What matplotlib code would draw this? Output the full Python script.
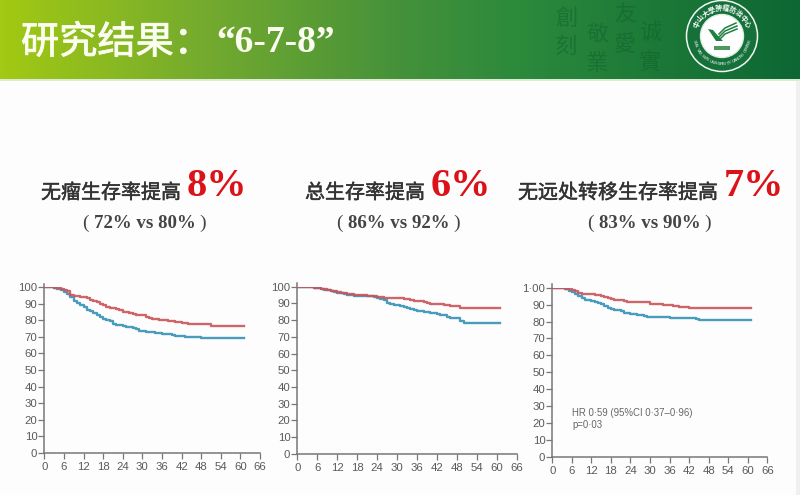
import numpy as np
import matplotlib
matplotlib.use("Agg")
import matplotlib.pyplot as plt
import matplotlib.patheffects as pe
from matplotlib.patches import Circle, Rectangle, Polygon
from matplotlib.colors import LinearSegmentedColormap

W, H = 800, 495
CJK = ['Noto Sans CJK SC', 'DejaVu Sans']
SERIF = ['Liberation Serif', 'DejaVu Serif']
SANS = ['Liberation Sans', 'DejaVu Sans']

header_title = "研究结果："
header_nums = "“6-7-8”"
titles = ["无瘤生存率提高", "总生存率提高", "无远处转移生存率提高"]
gains = ["8%", "6%", "7%"]
subtitles = ["72% vs 80%", "86% vs 92%", "83% vs 90%"]
xticks = list(range(0, 67, 6))
yticks = list(range(0, 101, 10))
ylabels_a = ["0","10","20","30","40","50","60","70","80","90","100"]
ylabels_c = ["0","10","20","30","40","50","60","70","80","90","1·00"]
note_hr = "HR 0·59 (95%CI 0·37–0·96)\np=0·03"

months = list(range(62))
red1 = [100,100,100,99.7,99.5,99,98.5,97.5,95.5,95,
        94.5,94.3,94,93.5,92.5,92,91,90,89,88,
        87.5,87.5,87,86,85,84.8,84.3,84,83.5,83.3,
        83,82,81.5,81,80.7,80.3,80,80,79.7,79.5,
        79,78.8,78.7,78.5,78,78,78,78,78,78,
        78,76.5,76.5,76.5,76.5,76.5,76.5,76.5,76.5,76.5,76.5,76.5]
blue1 = [100,100,100,99.5,99,98.5,97,96,94,91.5,
         90.3,89.5,88,86.5,85.5,84.5,83,82,81,80,
         79.7,78,77.5,77.3,76.5,76.2,75.7,75.2,74.8,73.8,
         73.5,73.2,73,72.7,72.5,72.2,72,72,71.7,71,
         70.7,70.5,70.4,70.2,70,70,70,69.7,69.3,69.3,
         69.3,69.3,69.3,69.3,69.3,69.3,69.3,69.3,69.3,69.3,69.3,69.3]
red2 = [100,100,100,100,99.8,99.5,99.2,98.8,98.5,98,
        97.7,97.3,96.8,96.3,96,95.7,95.5,95.3,95.2,95,
        94.8,94.6,94.5,94.2,94,93.7,93.5,93.4,93.3,93.3,
        93.3,93.2,92.8,92.4,92,91.7,91.5,91.2,90.8,90,
        89.7,89.6,89.5,89.5,89,88.8,88.7,88.6,88.5,87.5,
        87.5,87.5,87.5,87.5,87.5,87.5,87.5,87.5,87.5,87.5,87.5,87.5]
blue2 = [100,100,100,100,99.8,99.5,99.2,98.8,98.3,98,
         97.5,97,96.5,96,95.7,95.2,94.8,94.7,94.6,94.5,
         94.4,94.3,94.3,94,93,92.5,92,90.5,89.5,89,
         88.8,88.3,88,87.5,86.5,86,85.7,85.2,85,85,
         84.5,84,83.7,83.2,82.8,82,81.3,81.2,81,79.5,
         78.5,78.5,78.5,78.5,78.5,78.5,78.5,78.5,78.5,78.5,78.5,78.5]
red3 = [100,100,100,99.7,99.5,99.3,98.7,98,97,96,
        96,96,96,95.8,95.5,95,94.5,94,93.3,93,
        93,92.8,92,91.8,91.7,91.6,91.5,91.5,91.4,91.3,
        90.5,90.3,90.2,90.1,90,89.7,89.5,89.3,88.9,88.6,
        88.5,88.4,88.3,88.2,87.8,87.8,87.8,87.8,87.8,87.8,
        87.8,87.8,87.8,87.8,87.8,87.8,87.8,87.8,87.8,87.8,87.8,87.8]
blue3 = [100,100,100,99.7,99,98,97.5,96.5,95,94,
         93,92.6,92,91.5,91,90.2,89,87.8,87.2,87,
         86.8,86,85.3,85,84.7,84.3,84,83.8,83,82.5,
         82.4,82.4,82.4,82.4,82.4,82.4,82.3,82.3,82.3,82.3,
         82,82,82,82,81.4,81.2,81.2,81.2,81.2,81.2,
         81.1,81.1,81.1,81.1,81.1,81.1,81.1,81.1,81,81,81,81]

series = [(red1, blue1), (red2, blue2), (red3, blue3)]
boxes = [(44.3, 260.0, 452.7, 287.3), (297.3, 516.7, 453.7, 286.7), (552.3, 767.3, 457.0, 287.7)]
title_x = [41, 305, 518]
gain_x = [247, 491, 784]
sub_x = [145, 399, 650]
tick_colour = "#5a5a5a"
axis_colour = "#777777"
red = "#c9545a"
blue = "#3f97b8"

fig = plt.figure(figsize=(W/100, H/100), dpi=100, facecolor="#fdfdfd")
bg = fig.add_axes([0, 0, 1, 1])
bg.set_xlim(0, W); bg.set_ylim(H, 0); bg.axis("off")
cmap = LinearSegmentedColormap.from_list("h", [(0, "#a2c913"), (0.25, "#75ab2e"), (0.5, "#45913a"),
                                               (0.65, "#2b8a3c"), (1, "#0c6733")])
bg.imshow(np.linspace(0, 1, 256)[None, :], extent=(0, W, 79, 0), cmap=cmap, aspect="auto", zorder=0)
bg.set_xlim(0, W); bg.set_ylim(H, 0)
bg.add_patch(Rectangle((0, 79), W, 2, color="#dcecd4", lw=0, zorder=1))
bg.add_patch(Rectangle((796, 81), 4, H-81, color="#f0f0f0", lw=0, zorder=1))

t = bg.text(21, 43, header_title, family=CJK, fontsize=27.5, color="#fbfdf0", va="center", ha="left", zorder=3)
t.set_path_effects([pe.withStroke(linewidth=0.6, foreground="#fbfdf0")])
bg.text(216, 42, header_nums, family=SERIF, weight="bold", fontsize=27, color="#fbfdf0", va="center", ha="left", zorder=3)

# faint calligraphy columns
for x, y, s in [(566, 18, "創"), (566, 46, "刻"), (597, 34, "敬"), (597, 63, "業"),
                (625, 15, "友"), (625, 44, "愛"), (650, 32, "诚"), (650, 62, "實")]:
    bg.text(x, y, s, family=['Noto Sans CJK TC', 'DejaVu Sans'], fontsize=16, color="#0d5c2b", alpha=0.42,
            ha="center", va="center", zorder=2)

# emblem
cx, cy = 722, 36
bg.add_patch(Circle((cx, cy), 35.5, fc="#15703a", ec="#f2f8f2", lw=1.1, zorder=3))
bg.add_patch(Circle((cx, cy), 21.5, fc="white", ec="#dcefe0", lw=1, zorder=4))
bg.add_patch(Polygon([(cx-14, cy-7), (cx-9, cy-6), (cx-3, cy+1), (cx+1, cy+5), (cx-6, cy+5)],
                     fc="#1f8040", lw=0, zorder=5))
for dy, ex in [(-2, 14), (1, 15), (4, 15)]:
    bg.plot([cx-3, cx+3, ex+cx], [cy+dy, cy+dy-6, cy+dy-11], color="#1f8040", lw=1.1, zorder=5)
bg.add_patch(Rectangle((cx-8, cy+10), 16, 4, fc="#4d9a5c", lw=0, zorder=5))
ring = "中山大學肿瘤防治中心"
for i, ch in enumerate(ring):
    a = np.deg2rad(-155 + i*130/(len(ring)-1))
    bg.text(cx+28*np.cos(a), cy+28*np.sin(a), ch, family=['Noto Sans CJK TC', 'DejaVu Sans'], fontsize=5,
            color="white", weight="bold", ha="center", va="center",
            rotation=-np.rad2deg(a)-90, zorder=5)
arc = "SUN YAT-SEN UNIVERSITY CANCER CENTER"
for i, ch in enumerate(arc):
    a = np.deg2rad(170 - i*160/(len(arc)-1))
    bg.text(cx+28*np.cos(a), cy+28*np.sin(a), ch, family=SANS, fontsize=3,
            color="white", ha="center", va="center",
            rotation=90-np.rad2deg(a), zorder=5)

for i in range(3):
    t = bg.text(title_x[i], 193, titles[i], family=CJK, fontsize=14.4, color="#333333", va="center", ha="left", zorder=3)
    t.set_path_effects([pe.withStroke(linewidth=0.35, foreground="#333333")])
    bg.text(gain_x[i], 186, gains[i], family=SERIF, weight="bold", fontsize=29, color="#dc1219", va="center", ha="right", zorder=3)
    bg.text(sub_x[i], 224, subtitles[i], family=SERIF, weight="bold", fontsize=13.6, color="#444444", va="center", ha="center", zorder=3)
    bg.text(sub_x[i]-60, 223, "(", family=SERIF, fontsize=14, color="#444444", va="center", ha="center", zorder=3)
    bg.text(sub_x[i]+58, 223, ")", family=SERIF, fontsize=14, color="#444444", va="center", ha="center", zorder=3)

for i, ((r, b), (xl, xr, yb, yt)) in enumerate(zip(series, boxes)):
    ax = fig.add_axes([xl/W, 1-yb/H, (xr-xl)/W, (yb-yt)/H], facecolor="none")
    ax.set_xlim(0, 66); ax.set_ylim(0, 100)
    ax.step(months, b, where="post", color=blue, lw=1.7, zorder=2, alpha=0.95)
    ax.step(months, r, where="post", color=red, lw=1.7, zorder=3, alpha=0.9)
    ax.set_xticks(xticks); ax.set_yticks(yticks)
    ax.set_yticklabels(ylabels_c if i == 2 else ylabels_a)
    ax.tick_params(labelcolor=tick_colour, length=4, width=0.9, labelsize=8.2, pad=1, color=axis_colour)
    for lab in ax.get_xticklabels() + ax.get_yticklabels():
        lab.set_family(SANS)
    ax.tick_params(axis="x", pad=2.5)
    ax.spines["top"].set_visible(False); ax.spines["right"].set_visible(False)
    for k in ("left", "bottom"):
        ax.spines[k].set_color(axis_colour); ax.spines[k].set_linewidth(1.1)
    ax.spines["left"].set_bounds(0, 102)
    if i == 2:
        ax.text(6.2, 29, note_hr, family=SANS, fontsize=6.9, color="#666666", va="top", ha="left", linespacing=1.3)

fig.savefig("out.png", dpi=100, facecolor=fig.get_facecolor())
